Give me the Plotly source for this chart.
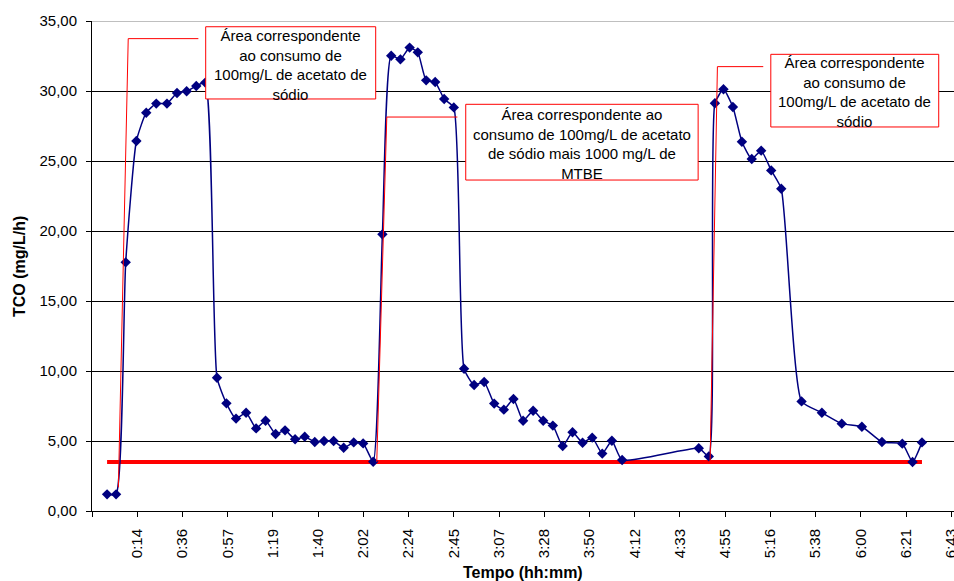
import plotly.graph_objects as go

# ---- data (time in minutes, TCO in mg/L/h) ----
tempo_min = [0.0, 4.3, 8.9, 14.0, 18.7, 23.5, 28.6, 33.4, 38.0, 42.6, 46.9,
             52.5, 57.0, 61.6, 66.4, 71.2, 75.7, 80.5, 85.0, 89.8, 94.4,
             99.2, 103.6, 108.2, 113.0, 117.8, 122.3, 127.1,
             131.5, 135.7, 140.1, 144.5, 148.4, 152.4, 156.7, 161.0, 165.6,
             170.5, 175.3, 180.1, 184.9, 189.5, 194.1, 198.7, 203.5, 208.3,
             212.9, 217.6, 222.3, 227.1, 231.7, 236.5, 241.1, 246.0,
             282.6, 287.4,
             290.3, 294.4, 298.9, 303.2, 307.9, 312.4, 317.2, 322.0,
             331.7, 341.4, 350.9, 360.5, 370.1, 379.8, 384.7, 389.2]
tco = [1.19, 1.19, 17.76, 26.43, 28.45, 29.10, 29.10, 29.86, 29.98, 30.36, 30.60,
       9.52, 7.69, 6.60, 7.02, 5.90, 6.45, 5.50, 5.76, 5.12, 5.31,
       4.93, 5.00, 5.00, 4.52, 4.90, 4.83, 3.52,
       19.76, 32.52, 32.26, 33.10, 32.76, 30.76, 30.64, 29.43, 28.83,
       10.16, 9.00, 9.21, 7.67, 7.24, 8.00, 6.45, 7.16, 6.45,
       6.10, 4.64, 5.62, 4.88, 5.24, 4.10, 5.02, 3.64,
       4.48, 3.90,
       29.12, 30.12, 28.86, 26.38, 25.14, 25.74, 24.33, 23.02,
       7.83, 7.02, 6.24, 6.02, 4.93, 4.81, 3.50, 4.90]
linha_base = 3.5

x_tick_vals = [-7.2 + 21.6 * k for k in range(20)]
x_tick_text = ["", "0:14", "0:36", "0:57", "1:19", "1:40", "2:02", "2:24", "2:45",
               "3:07", "3:28", "3:50", "4:12", "4:33", "4:55", "5:16", "5:38",
               "6:00", "6:21", "6:43"]
y_tick_vals = [0, 5, 10, 15, 20, 25, 30, 35]

texto_1 = "Área correspondente<br>ao consumo de<br>100mg/L de acetato de<br>sódio"
texto_2 = "Área correspondente ao<br>consumo de 100mg/L de acetato<br>de sódio mais 1000 mg/L de<br>MTBE"
texto_3 = "Área correspondente<br>ao consumo de<br>100mg/L de acetato de<br>sódio"

FONT = "Arial, Liberation Sans, sans-serif"
RED = "#FF0000"
NAVY = "#000080"

fig = go.Figure()

fig.add_trace(go.Scatter(
    x=[tempo_min[0], tempo_min[-1]], y=[linha_base, linha_base],
    mode="lines", line=dict(color=RED, width=4), hoverinfo="skip", showlegend=False))

fig.add_trace(go.Scatter(
    x=tempo_min, y=tco, mode="lines+markers",
    line=dict(color=NAVY, width=1.5, shape="spline", smoothing=0.5),
    marker=dict(symbol="diamond", size=8, color=NAVY),
    showlegend=False))

shapes = []
# connector lines
connectors = [
    ((10.1, 33.74), (43.6, 33.74)), ((10.1, 33.74), (5.4, 1.69)),
    ((133.6, 28.14), (167.3, 28.14)), ((133.6, 28.14), (128.8, 3.5)),
    ((291.5, 31.74), (313.4, 31.74)), ((291.5, 31.74), (288.0, 3.41)),
]
for (a, b) in connectors:
    shapes.append(dict(type="line", xref="x", yref="y", x0=a[0], y0=a[1], x1=b[0], y1=b[1],
                       line=dict(color=RED, width=1), layer="above"))
# annotation boxes
boxes = [(47.1, 29.43, 128.3, 34.59), (171.3, 23.64, 282.3, 29.05), (317.0, 27.43, 397.2, 32.62)]
for (x0, y0, x1, y1) in boxes:
    shapes.append(dict(type="rect", xref="x", yref="y", x0=x0, y0=y0, x1=x1, y1=y1,
                       line=dict(color=RED, width=1), fillcolor="white", layer="above"))
# top border
shapes.append(dict(type="line", xref="paper", yref="y", x0=0, x1=1, y0=35, y1=35,
                   line=dict(color="#808080", width=1), layer="below"))

annotations = []
for (txt, cx, cy) in [(texto_1, 87.7, 31.84), (texto_2, 226.8, 26.24), (texto_3, 357.1, 29.91)]:
    annotations.append(dict(text=txt, x=cx, y=cy, xref="x", yref="y", showarrow=False,
                            font=dict(family=FONT, size=15, color="black"),
                            xanchor="center", yanchor="middle", align="center"))
annotations.append(dict(text="<b>Tempo (hh:mm)</b>", x=0.5, y=-0.1245, xref="paper", yref="paper",
                        showarrow=False, font=dict(family=FONT, size=16, color="black"),
                        xanchor="center", yanchor="middle"))
annotations.append(dict(text="<b>TCO (mg/L/h)</b>", x=-0.0847, y=0.5, xref="paper", yref="paper",
                        showarrow=False, textangle=-90, font=dict(family=FONT, size=16, color="black"),
                        xanchor="center", yanchor="middle"))

fig.update_layout(
    width=954, height=581,
    margin=dict(l=92, r=0, t=21, b=70, autoexpand=False),
    paper_bgcolor="white", plot_bgcolor="white",
    separators=", ",
    font=dict(family=FONT, size=15, color="black"),
    shapes=shapes, annotations=annotations,
    xaxis=dict(range=[-7.2, 404.5], tickmode="array", tickvals=x_tick_vals, ticktext=x_tick_text,
               tickangle=-90, ticks="outside", ticklen=5, tickcolor="black", tickwidth=1,
               showline=True, linecolor="black", linewidth=1, showgrid=False, zeroline=False,
               ticklabelstandoff=6, ticklabeloverflow="allow", automargin=False,
               tickfont=dict(family=FONT, size=15, color="black")),
    yaxis=dict(range=[0, 35], tickmode="array", tickvals=y_tick_vals, tickformat=".2f",
               ticks="outside", ticklen=5, tickcolor="black", tickwidth=1,
               showline=True, linecolor="black", linewidth=1, automargin=False,
               showgrid=True, gridcolor="black", gridwidth=1, zeroline=False,
               ticklabelstandoff=6, tickfont=dict(family=FONT, size=15, color="black")),
)

fig.write_html("out.html")
